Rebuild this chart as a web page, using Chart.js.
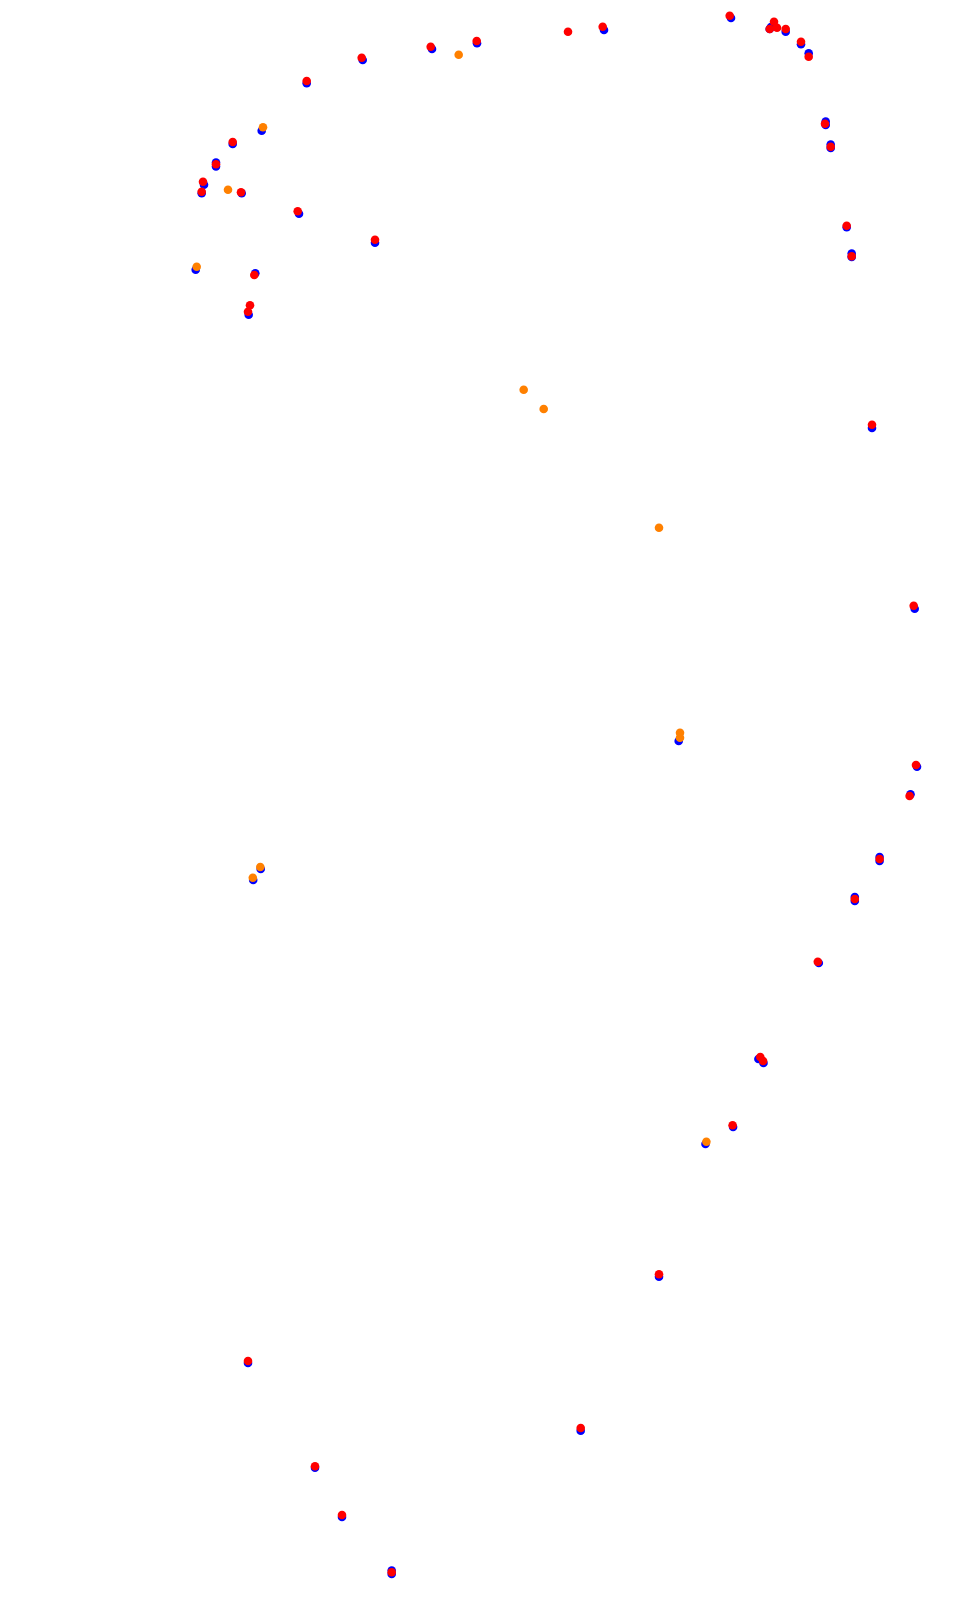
<!DOCTYPE html>
<html lang="en">
<head>
    <meta charset="UTF-8">
    <title>Track points</title>
    <style>
        html, body { margin: 0; padding: 0; background: #fff; }
        #trackChart { display: block; }
    </style>
</head>
<body>
    <canvas id="trackChart" width="953" height="1599"></canvas>
    <script src="https://cdn.jsdelivr.net/npm/chart.js"></script>
    <script>
        // point positions (x to the right, y downwards)
        const blueX = [477, 432, 362.7, 306.7, 261.7, 232.7, 216, 216, 204, 201.7, 241.7, 299, 375, 195.7, 255.3, 248.7,
            604, 731, 769.7, 771, 785.7, 801, 808.7, 825.7, 825.7, 830.7, 830.7, 846.7, 851.7, 851.7,
            872, 914.7, 678.7, 917, 910.5, 879.6, 879.6, 854.8, 854.8, 818.8, 260.7, 253.2, 758.4, 763.5, 733.1, 705.5,
            659, 248, 580.7, 315, 342, 391.7, 391.7];
        const blueY = [43.3, 49, 60, 83.3, 130.7, 144, 162.5, 166.5, 184.7, 193.3, 193.3, 213.7, 242.7, 269.7, 273.3, 314.7,
            30, 18, 29, 27, 31.7, 44.3, 53.3, 121.5, 125, 144.5, 148, 227.3, 253.5, 257,
            428, 608.7, 741, 766.7, 794.3, 857, 861, 897, 901, 963, 869, 880, 1059, 1063, 1127, 1144,
            1276.7, 1363, 1430.7, 1467.7, 1517, 1570.5, 1574];

        const redX = [476.7, 430.7, 361.7, 306.7, 232.7, 216, 203, 201.7, 241, 297.7, 375, 254.3, 250, 248,
            568, 602.7, 729.7, 774, 777, 769.7, 785.7, 801, 808.7, 825, 830.7, 846.7, 851.7,
            872, 913.7, 916, 909.6, 879.6, 854.8, 817.8, 760.3, 763.1, 732.6,
            659, 248, 580.7, 315, 342, 391.7];
        const redY = [41, 46.7, 57.7, 81, 142, 164.3, 181.7, 191.7, 192.3, 211.3, 239.7, 275, 305.3, 311.7,
            31.7, 26.7, 15.7, 21.7, 27.7, 29, 29, 41.7, 56.7, 123.7, 146.7, 225.7, 256.3,
            424.7, 605.7, 765, 796, 859, 899, 961.7, 1057, 1061, 1125.3,
            1274.3, 1361, 1428, 1466.3, 1515, 1572.3];

        const orangeX = [458.7, 263, 228, 196.7, 523.7, 543.7, 659, 680, 680, 260.3, 252.8, 706.4];
        const orangeY = [54.7, 127.3, 189.7, 266.7, 389.7, 409, 527.7, 732.7, 737.7, 867, 877.7, 1141.7];

        const toPoints = (xs, ys) => xs.map((x, i) => ({ x: x, y: ys[i] }));

        const ctx = document.getElementById('trackChart').getContext('2d');
        new Chart(ctx, {
            type: 'scatter',
            data: {
                datasets: [
                    { label: 'blue', data: toPoints(blueX, blueY), backgroundColor: '#0000ff', order: 2 },
                    { label: 'orange', data: toPoints(orangeX, orangeY), backgroundColor: '#ff8000', order: 1 },
                    { label: 'red', data: toPoints(redX, redY), backgroundColor: '#ff0000', order: 0 }
                ]
            },
            options: {
                responsive: false,
                animation: false,
                layout: { padding: 0, autoPadding: false },
                elements: { point: { radius: 4.3, borderWidth: 0, hoverRadius: 4.3 } },
                scales: {
                    x: { type: 'linear', display: false, min: 0, max: 953 },
                    y: { type: 'linear', display: false, min: 0, max: 1599, reverse: true }
                },
                plugins: { legend: { display: false }, tooltip: { enabled: false } }
            }
        });
    </script>
</body>
</html>
